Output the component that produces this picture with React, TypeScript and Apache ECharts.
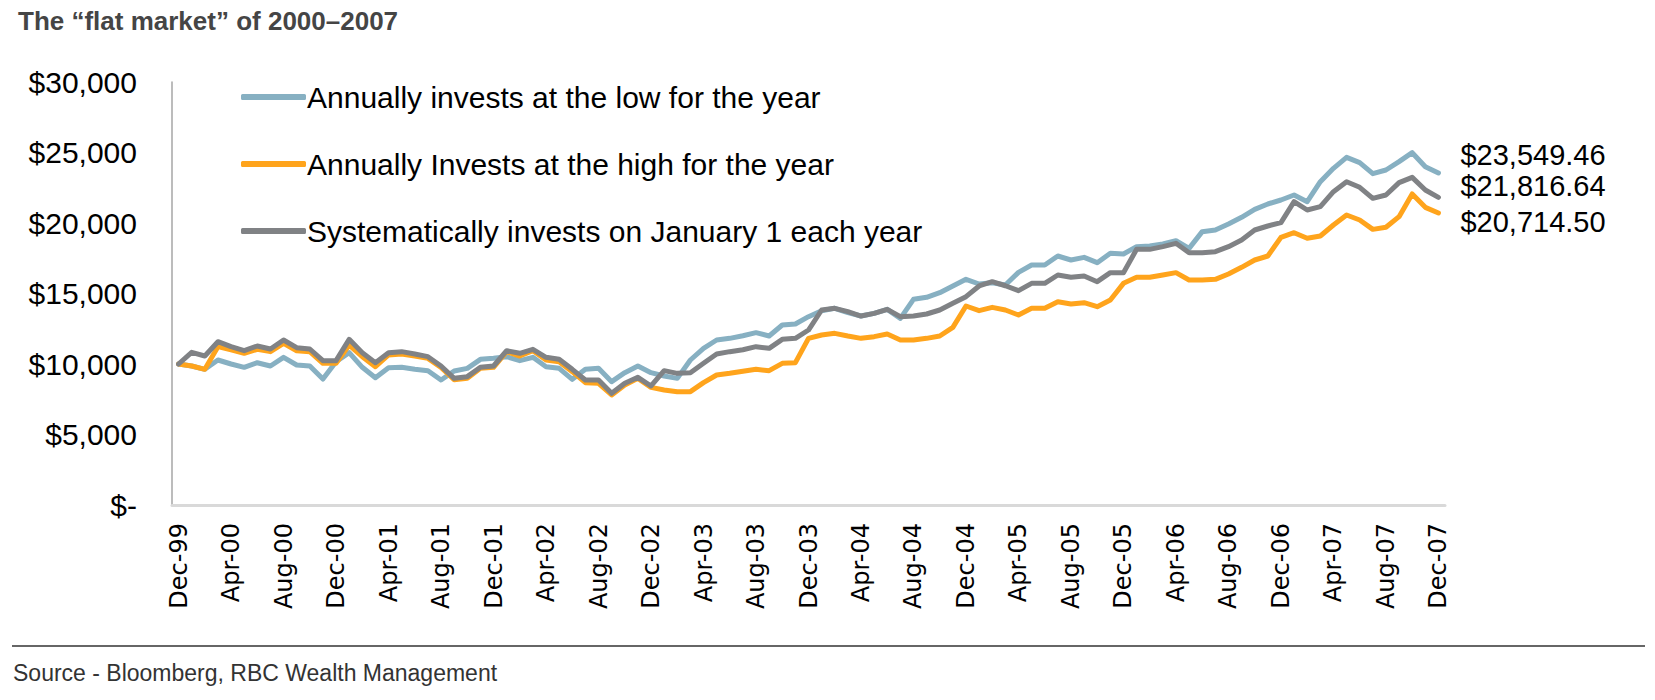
import React, { useEffect, useRef } from "react";
import * as echarts from "echarts";

const TITLE = "The \u201cflat market\u201d of 2000\u20132007";
const SOURCE = "Source - Bloomberg, RBC Wealth Management";

const MONTH_NAMES = ["Jan", "Feb", "Mar", "Apr", "May", "Jun", "Jul", "Aug", "Sep", "Oct", "Nov", "Dec"];
const START_MONTH = 11; // Dec
const START_YEAR = 1999;
const MONTH_COUNT = 97;

const CATEGORIES: string[] = [];
for (let i = 0; i < MONTH_COUNT; i++) {
  const m = (START_MONTH + i) % 12;
  const y = START_YEAR + Math.floor((START_MONTH + i) / 12);
  CATEGORIES.push(MONTH_NAMES[m] + "-" + String(y % 100).padStart(2, "0"));
}

const SERIES_NAMES = [
  "Annually invests at the low for the year",
  "Annually Invests at the high for the year",
  "Systematically invests on January 1 each year",
];

const LOW_VALUES = [
  10000, 9858, 9622, 10284, 10000, 9764, 10092, 9858, 10473, 9929, 9858, 8936, 10165,
  10804, 9764, 9031, 9740, 9764, 9622, 9527, 8865, 9500, 9693, 10331, 10402,
  10520, 10236, 10473, 9811, 9693, 8913, 9622, 9693, 8747, 9385, 9858, 9385,
  9149, 8983, 10284, 11111, 11702, 11820, 12000, 12222, 11986, 12766, 12837, 13357,
  13782, 13948, 13641, 13404, 13593, 13877, 13239, 14586, 14728, 15059, 15532, 16005,
  15674, 15768, 15603, 16500, 17021, 17021, 17660, 17376, 17565, 17187, 17849, 17801,
  18322, 18369, 18511, 18747, 18203, 19385, 19504, 19929, 20402, 20969, 21347, 21631,
  21986, 21513, 22931, 23877, 24657, 24279, 23500, 23759, 24350, 24988, 23995, 23549.46,
];

const HIGH_VALUES = [
  10000, 9858, 9622, 11229, 11000, 10757, 11040, 10875, 11465, 10943, 10875, 10047, 10047,
  11347, 10520, 9811, 10638, 10709, 10567, 10402, 9764, 8880, 8983, 9693, 9764,
  10875, 10567, 10943, 10284, 10165, 9456, 8676, 8629, 7801, 8511, 8983, 8345,
  8156, 8038, 8038, 8676, 9220, 9338, 9490, 9622, 9527, 10047, 10094, 11820,
  12057, 12175, 11986, 11820, 11939, 12128, 11702, 11702, 11820, 11986, 12600, 14113,
  13782, 14019, 13830, 13475, 13948, 13948, 14421, 14255, 14350, 14066, 14539, 15721,
  16147, 16147, 16312, 16478, 15957, 15957, 16005, 16383, 16856, 17376, 17660, 18983,
  19314, 18913, 19078, 19858, 20567, 20213, 19550, 19700, 20449, 22057, 21111, 20714.5,
];

const JAN1_VALUES = [
  10000, 10830, 10567, 11582, 11229, 10943, 11277, 11064, 11702, 11158, 11064, 10236, 10236,
  11749, 10804, 10092, 10804, 10875, 10709, 10520, 9858, 8983, 9102, 9764, 9858,
  10943, 10757, 11040, 10473, 10331, 9622, 8865, 8865, 7920, 8629, 9055, 8440,
  9527, 9338, 9385, 10047, 10709, 10875, 11010, 11229, 11111, 11749, 11820, 12411,
  13830, 13948, 13712, 13404, 13593, 13877, 13357, 13404, 13546, 13830, 14303, 14775,
  15532, 15839, 15550, 15201, 15721, 15721, 16312, 16147, 16241, 15839, 16478, 16478,
  18132, 18132, 18322, 18558, 17896, 17896, 17967, 18322, 18794, 19504, 19787, 20024,
  21513, 20922, 21158, 22222, 22931, 22530, 21749, 21986, 22861, 23239, 22340, 21816.64,
];

const END_LABELS = ["$23,549.46", "$20,714.50", "$21,816.64"];

const Y_MIN = 0;
const Y_MAX = 30000;
const Y_STEP = 5000;

const COLORS = ["#87B0C2", "#FFA41C", "#808285"];
const END_OFFSETS = [-18, 9, -11];

const MAIN_FONT = "'Liberation Sans', Arial, sans-serif";

function fmtMoney(v: number): string {
  if (v === 0) return "$-";
  return "$" + v.toLocaleString("en-US");
}

export default function App() {
  const ref = useRef<HTMLDivElement>(null);

  useEffect(() => {
    if (!ref.current) return;
    const chart = echarts.init(ref.current, undefined, { renderer: "svg" });
    const seriesData = [LOW_VALUES, HIGH_VALUES, JAN1_VALUES];

    chart.setOption({
      animation: false,
      backgroundColor: "#ffffff",
      title: {
        text: TITLE,
        left: 18,
        top: 8,
        padding: 0,
        textStyle: {
          fontFamily: MAIN_FONT,
          fontSize: 26,
          fontWeight: "bold",
          color: "#454545",
        },
      },
      legend: {
        orient: "vertical",
        left: 236,
        top: 77,
        itemWidth: 65,
        itemHeight: 6,
        itemGap: 37,
        icon: "roundRect",
        selectedMode: false,
        textStyle: {
          fontFamily: MAIN_FONT,
          fontSize: 30,
          color: "#000",
          padding: [0, 0, 0, -4],
        },
        data: SERIES_NAMES,
      },
      grid: {
        left: 172,
        right: 210,
        top: 82,
        bottom: 195,
        containLabel: false,
      },
      xAxis: {
        type: "category",
        data: CATEGORIES,
        boundaryGap: true,
        axisLine: { lineStyle: { color: "#d9d9d9", width: 3 } },
        axisTick: {
          interval: 3,
          length: 9,
          lineStyle: { color: "#d9d9d9", width: 3 },
        },
        axisLabel: {
          interval: 3,
          rotate: 90,
          margin: 18,
          fontFamily: "'DejaVu Sans', Verdana, sans-serif",
          fontSize: 24,
          color: "#000",
        },
        splitLine: { show: false },
      },
      yAxis: {
        type: "value",
        min: Y_MIN,
        max: Y_MAX,
        interval: Y_STEP,
        axisLine: { show: true, lineStyle: { color: "#a6a6a6", width: 1.5 } },
        axisTick: { show: false },
        splitLine: { show: false },
        axisLabel: {
          margin: 35,
          fontFamily: MAIN_FONT,
          fontSize: 30,
          color: "#000",
          formatter: (v: number) => fmtMoney(v),
        },
      },
      series: SERIES_NAMES.map((name, i) => ({
        name,
        type: "line",
        data: seriesData[i],
        symbol: "none",
        color: COLORS[i],
        lineStyle: { width: 5, color: COLORS[i], cap: "round", join: "round" },
        z: 2 + i,
        endLabel: {
          show: true,
          formatter: () => END_LABELS[i],
          distance: 22,
          offset: [0, END_OFFSETS[i]],
          fontFamily: MAIN_FONT,
          fontSize: 29,
          lineHeight: 29,
          color: "#000",
        },
      })),
      graphic: [
        {
          type: "line",
          shape: { x1: 12, y1: 646, x2: 1645, y2: 646 },
          style: { stroke: "#333", lineWidth: 1.5 },
        },
        {
          type: "text",
          left: 13,
          top: 661,
          style: {
            text: SOURCE,
            fontFamily: MAIN_FONT,
            fontSize: 23,
            fill: "#333",
          },
        },
      ],
    });

    return () => {
      chart.dispose();
    };
  }, []);

  return (
    <div
      ref={ref}
      style={{ position: "absolute", left: 0, top: 0, width: 1655, height: 700 }}
    />
  );
}
